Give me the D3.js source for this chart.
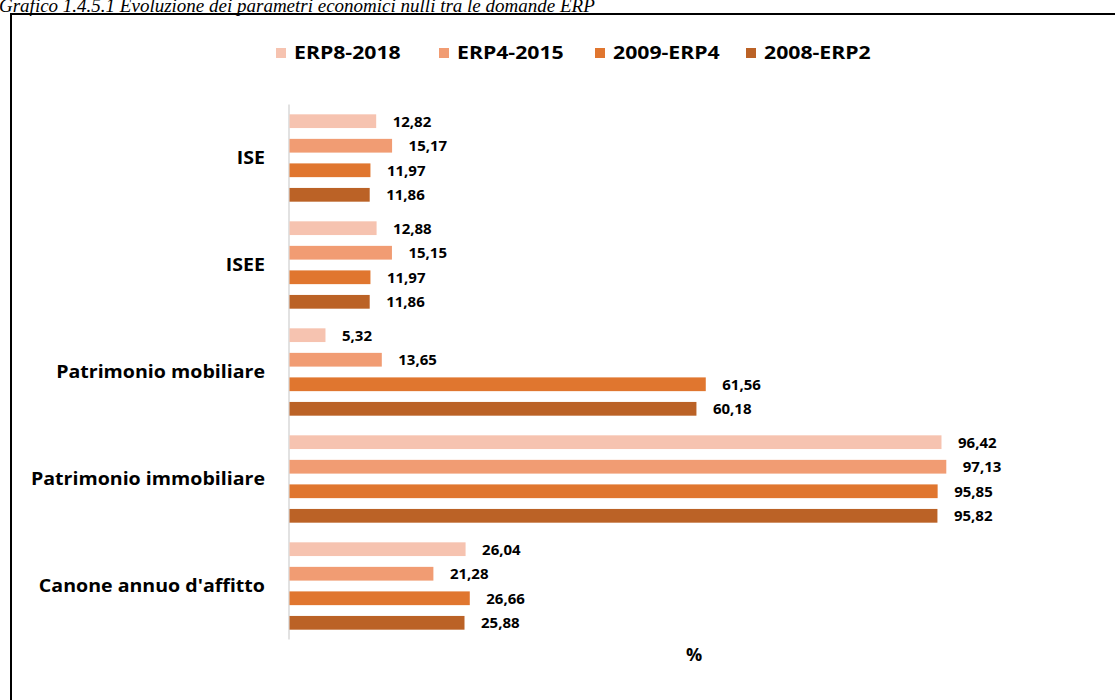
<!DOCTYPE html>
<html>
<head>
<meta charset="utf-8">
<script src="https://cdn.jsdelivr.net/npm/d3@7"></script>
<style>
  html, body { margin: 0; padding: 0; background: #fff; }
  svg { display: block; }
</style>
</head>
<body>
<svg id="chart" width="1115" height="700"></svg>
<script>
// Parameters and survey editions
const categories = ["ISE", "ISEE", "Patrimonio mobiliare", "Patrimonio immobiliare", "Canone annuo d'affitto"];
const seriesNames = ["ERP8-2018", "ERP4-2015", "2009-ERP4", "2008-ERP2"];
const erp8_2018 = [12.82, 12.88, 5.32, 96.42, 26.04];
const erp4_2015 = [15.17, 15.15, 13.65, 97.13, 21.28];
const y2009_erp4 = [11.97, 11.97, 61.56, 95.85, 26.66];
const y2008_erp2 = [11.86, 11.86, 60.18, 95.82, 25.88];
const seriesValues = [erp8_2018, erp4_2015, y2009_erp4, y2008_erp2];
const colors = ["#F6C3B0", "#F19C73", "#E0762F", "#BB6226"];

const svg = d3.select("#chart");
const font = "'Open Sans', Lato, sans-serif";
const fmt = v => d3.format(".2f")(v).replace(".", ",");

// Caption above the frame
svg.append("text")
  .attr("x", -1).attr("y", 12)
  .attr("font-family", "'Liberation Serif', 'DejaVu Serif', serif")
  .attr("font-style", "italic")
  .attr("font-size", 19)
  .attr("fill", "#000")
  .text("Grafico 1.4.5.1 Evoluzione dei parametri economici nulli tra le domande ERP");

// Chart frame
svg.append("path")
  .attr("d", "M11,702 L11,14 L1117,14")
  .attr("fill", "none").attr("stroke", "#000").attr("stroke-width", 2);

const x = d3.scaleLinear().domain([0, 100]).range([289, 289 + 676.2]);
const y = d3.scaleBand().domain(categories).range([104.5, 639.5]);
const yInner = d3.scaleBand().domain(seriesNames).range([0, y.bandwidth()])
  .paddingInner(0.44).paddingOuter(0.4);

// Category axis line
svg.append("line")
  .attr("x1", x(0)).attr("x2", x(0))
  .attr("y1", y.range()[0]).attr("y2", y.range()[1])
  .attr("stroke", "#D9D9D9").attr("stroke-width", 1.5);

const groups = svg.append("g").selectAll("g")
  .data(categories).join("g")
  .attr("transform", d => `translate(0,${y(d)})`);

groups.each(function(cat, ci) {
  const g = d3.select(this);
  seriesNames.forEach((s, si) => {
    const v = seriesValues[si][ci];
    g.append("rect")
      .attr("x", x(0) + 0.5)
      .attr("y", yInner(s))
      .attr("width", x(v) - x(0))
      .attr("height", yInner.bandwidth())
      .attr("fill", colors[si]);
    g.append("text")
      .attr("x", x(v) + 17)
      .attr("y", yInner(s) + yInner.bandwidth() / 2)
      .attr("dy", "0.36em")
      .attr("font-family", font)
      .attr("font-weight", 700)
      .attr("font-size", 15)
      .attr("fill", "#000")
      .text(fmt(v));
  });
});

// Category labels (slightly widened lettering)
svg.append("g").selectAll("text")
  .data(categories).join("text")
  .attr("transform", d => `translate(265,${y(d) + y.bandwidth() / 2}) scale(1.12,1)`)
  .attr("dy", "0.36em")
  .attr("text-anchor", "end")
  .attr("font-family", font)
  .attr("font-weight", 700)
  .attr("font-size", 17.5)
  .attr("fill", "#000")
  .text(d => d);

// Legend
const legendX = [276, 439, 595, 746];
const legend = svg.append("g").selectAll("g")
  .data(seriesNames).join("g")
  .attr("transform", (d, i) => `translate(${legendX[i]},48)`);
legend.append("rect")
  .attr("width", 10).attr("height", 10)
  .attr("fill", (d, i) => colors[i]);
legend.append("text")
  .attr("transform", "translate(18,5) scale(1.18,1)")
  .attr("dy", "0.36em")
  .attr("font-family", font)
  .attr("font-weight", 700)
  .attr("font-size", 18)
  .attr("fill", "#000")
  .text(d => d);

// Value axis title
svg.append("text")
  .attr("x", 694).attr("y", 661)
  .attr("text-anchor", "middle")
  .attr("font-family", font)
  .attr("font-weight", 700)
  .attr("font-size", 18)
  .attr("fill", "#000")
  .text("%");
</script>
</body>
</html>
